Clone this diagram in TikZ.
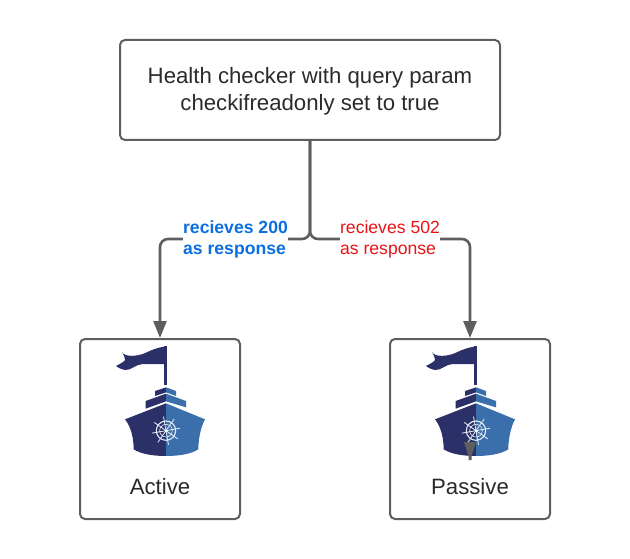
\documentclass[tikz,border=0pt]{standalone}
\usepackage{fontspec}
\setmainfont{Liberation Sans}
\usetikzlibrary{arrows.meta}
\definecolor{linegray}{HTML}{5E5E5E}
\definecolor{textgray}{HTML}{2B2B2B}
\definecolor{shipdark}{HTML}{2B3068}
\definecolor{shipblue}{HTML}{3A6FAB}
\definecolor{labelblue}{HTML}{0C6FE0}
\definecolor{labelred}{HTML}{E81416}
\tikzset{
    process/.style={rectangle, rounded corners=5pt, draw=linegray, line width=2pt, fill=white},
    arrow/.style={draw=linegray, line width=2.6pt, rounded corners=8pt, -{Triangle[length=17pt,width=13pt]}},
    caption/.style={text=textgray, inner sep=0pt, font=\fontsize{22.2}{27}\selectfont, align=center},
    edgelabel/.style={fill=white, inner xsep=0.5pt, inner ysep=1pt, font=\fontsize{17.6}{21}\selectfont, align=left},
    ship/.pic={
        % flag and pole
        \fill[shipdark] (-6,-48) rectangle (2,-165);
        \fill[shipdark] (-132,-66) .. controls (-125,-82) and (-85,-80) .. (-60,-68)
            .. controls (-40,-58) and (-20,-52) .. (-6,-50) -- (-6,-102) -- (-69,-102)
            .. controls (-90,-102) and (-105,-122) .. (-123,-120)
            .. controls (-135,-118) and (-145,-112) .. (-150,-108)
            .. controls (-140,-103) and (-128,-97) .. (-123,-90) .. controls (-122,-82) and (-128,-74) .. cycle;
        % upper decks
        \fill[shipdark] (-33,-183) -- (0,-172) -- (0,-187) -- (-33,-198) -- cycle;
        \fill[shipblue] (30,-183) -- (0,-172) -- (0,-187) -- (30,-198) -- cycle;
        \fill[shipdark] (-61,-213) -- (0,-191) -- (0,-214) -- (-61,-236) -- cycle;
        \fill[shipblue] (60,-213) -- (0,-191) -- (0,-214) -- (60,-232) -- cycle;
        % hull
        \fill[shipdark] (-123,-268) -- (0,-220) -- (0,-378) .. controls (-40,-378) and (-75,-372) .. (-97,-358)
            .. controls (-97,-325) and (-105,-290) .. cycle;
        \fill[shipblue] (117,-268) -- (0,-220) -- (0,-378) .. controls (40,-378) and (75,-372) .. (97,-358)
            .. controls (97,-325) and (105,-290) .. cycle;
        % wheel
        \draw[white!88!shipblue, line width=1.1pt] (0,-302) circle (29);
        \draw[white!88!shipblue, line width=0.6pt] (0,-302) circle (19);
        \foreach \spoke in {10,55,...,325}
            \draw[white!88!shipblue, line width=0.8pt] (0,-302) -- ++(\spoke:43);
        \fill[white] (0,-302) circle (4);
    }
}
\begin{document}
\begin{tikzpicture}[x=1pt, y=1pt]
    \useasboundingbox (0,0) rectangle (630,-559);

    % Draw the boxes
    \node[process, minimum width=380pt, minimum height=100pt] (health) at (310,-90) {};
    \node[process, minimum width=160pt, minimum height=180pt] (active) at (160,-429) {};
    \node[process, minimum width=160pt, minimum height=180pt] (passive) at (470,-429) {};

    % Draw the ships
    \pic at (166,-330) [scale=1/3] {ship};
    \pic at (476,-330) [scale=1/3] {ship};

    % Draw the texts of the boxes
    \node[caption] (healthtext) at (310,-91) {Health checker with query param\\checkifreadonly set to true};
    \node[caption] (activetext) at (160,-487) {Active};
    \node[caption] (passivetext) at (470,-487) {Passive};

    % Draw the arrows
    \coordinate (fork) at (310,-239);
    \draw[arrow] (health.south) -- (fork) -| (active.north);
    \draw[arrow] (health.south) -- (fork) -| (passive.north);

    % stray arrow head over the passive ship
    \fill[linegray] (464,-442) -- (476,-442) -- (471.5,-456) -- (471.5,-460) -- (468.5,-460) -- (468.5,-456) -- cycle;

    % Draw the labels of the arrows
    \node[edgelabel, text=labelblue] (oklabel) at (235.5,-239.5) {\bfseries recieves 200\\\bfseries as response};
    \node[edgelabel, text=labelred] (errlabel) at (390,-239.5) {recieves 502\\as response};
\end{tikzpicture}
\end{document}
